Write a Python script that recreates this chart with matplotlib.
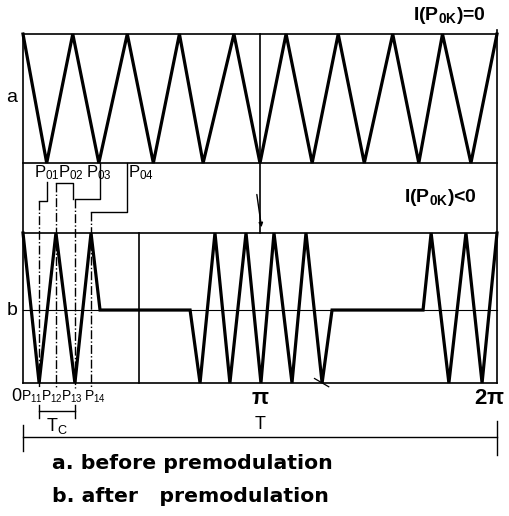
#!/usr/bin/env python3
# -*- coding: utf-8 -*-

"""
Triangular carrier before (a) and after (b) premodulation
"""

import matplotlib.pyplot as plt
import matplotlib as mpl

mpl.rcParams['font.family'] = ['Liberation Sans', 'DejaVu Sans']
mpl.rcParams['mathtext.default'] = 'regular'

# Data : phase in units of pi, level 1 = top, 0 = bottom, 0.5 = middle
a_phase = [0, 0.10, 0.21, 0.32, 0.44, 0.55, 0.66, 0.76, 0.89, 1.0,
           1.11, 1.22, 1.33, 1.44, 1.56, 1.67, 1.77, 1.89, 2.0]
a_level = [1, 0, 1, 0, 1, 0, 1, 0, 1, 0, 1, 0, 1, 0, 1, 0, 1, 0, 1]

b_phase = [0, 0.068, 0.139, 0.219, 0.287, 0.325, 0.705, 0.747, 0.810,
           0.873, 0.941, 1.004, 1.059, 1.135, 1.194, 1.262, 1.304, 1.688,
           1.722, 1.797, 1.869, 1.937, 2.0]
b_level = [1, 0, 1, 0, 1, 0.5, 0.5, 0, 1, 0, 1, 0, 1, 0, 1, 0, 0.5, 0.5,
           1, 0, 1, 0, 1]

# points P0k (before) -> P1k (after)
p0_phase = [0.101, 0.211, 0.325, 0.439]
p1_phase = [0.068, 0.139, 0.219, 0.287]
p0_names = ['P$_{01}$', 'P$_{02}$', 'P$_{03}$', 'P$_{04}$']
p1_names = ['P$_{11}$', 'P$_{12}$', 'P$_{13}$', 'P$_{14}$']
b_step = 0.489

# vertical layout (arbitrary units)
B_BOT, B_TOP, B_MID = 0.0, 2.0, 0.973
A_BOT, A_TOP = 2.933, 4.653

if __name__ == "__main__":

    fig = plt.figure(figsize=(5.1, 5.16), dpi=100)
    ax = fig.add_axes([0, 0, 1, 1])
    ax.set_xlim(-23/237, 487/237)
    ax.set_ylim(-133/75, 383/75)
    ax.axis('off')

    lw_sig, lw_frame = 2.3, 1.2
    k = 'black'

    # frames
    for y in [A_TOP, A_BOT, B_TOP, B_BOT]:
        ax.plot([0, 2], [y, y], color=k, lw=lw_frame)
    ax.plot([0, 2], [B_MID, B_MID], color=k, lw=0.8)
    ax.plot([0, 0], [B_BOT, A_TOP], color=k, lw=lw_frame)
    ax.plot([2, 2], [B_BOT, A_TOP + 0.06], color=k, lw=lw_frame)

    # signals
    ya = [A_BOT + l*(A_TOP - A_BOT) for l in a_level]
    ax.plot(a_phase, ya, color=k, lw=lw_sig, solid_joinstyle='miter')
    yb = [B_MID if l == 0.5 else B_BOT + l*(B_TOP - B_BOT) for l in b_level]
    ax.plot(b_phase, yb, color=k, lw=lw_sig, solid_joinstyle='miter')
    ax.plot([b_step, b_step], [B_BOT, B_TOP], color=k, lw=lw_frame)
    ax.plot([1.0, 1.0], [B_TOP, A_TOP], color=k, lw=lw_frame)

    # brackets P0k -> P1k
    starts = [2.68, 2.45, A_BOT, A_BOT]
    depths = [2.43, 2.67, 2.45, 2.28]
    for x0, x1, s, d in zip(p0_phase, p1_phase, starts, depths):
        ax.plot([x0, x0, x1], [s, d, d], color=k, lw=1.0)
        ax.plot([x1, x1], [d, -0.067], color=k, lw=1.0, ls='-.')
    for x, name in zip([0.101, 0.203, 0.321, 0.498], p0_names):
        ax.text(x, 2.81, name, ha='center', va='center', fontsize=12)

    # arrow near pi
    ax.annotate('', xy=(1.008, 2.04), xytext=(0.985, 2.55),
                arrowprops=dict(arrowstyle='-|>', color=k, lw=1.0, mutation_scale=6))
    ax.plot([1.23, 1.29], [0.06, -0.05], color=k, lw=0.9)

    # texts
    ax.text(1.80, 4.90, r'I(P$_{0K}$)=0', ha='center', va='center', fontsize=14,
            fontweight='bold')
    ax.text(1.76, 2.48, r'I(P$_{0K}$)<0', ha='center', va='center', fontsize=14,
            fontweight='bold')
    ax.text(-0.046, 3.81, 'a', ha='center', va='center', fontsize=14)
    ax.text(-0.046, 0.97, 'b', ha='center', va='center', fontsize=14)

    ax.text(-0.03, -0.18, '0', ha='center', va='center', fontsize=13)
    for x, name in zip([0.036, 0.122, 0.205, 0.302], p1_names):
        ax.text(x, -0.18, name, ha='center', va='center', fontsize=10)
    ax.text(1.0, -0.2, r'$\pi$', ha='center', va='center', fontsize=16,
            fontweight='bold')
    ax.text(1.97, -0.2, r'2$\pi$', ha='center', va='center', fontsize=16,
            fontweight='bold')

    # Tc and T
    ax.plot([p1_phase[0], p1_phase[2]], [-0.373, -0.373], color=k, lw=1.0)
    for x in [p1_phase[0], p1_phase[2]]:
        ax.plot([x, x], [-0.29, -0.46], color=k, lw=1.0)
    ax.text(0.143, -0.57, 'T$_C$', ha='center', va='center', fontsize=13)
    ax.plot([0, 2], [-0.72, -0.72], color=k, lw=1.0)
    ax.plot([0, 0], [-0.56, -0.9], color=k, lw=1.0)
    ax.plot([2, 2], [-0.5, -0.96], color=k, lw=1.0)
    ax.text(1.0, -0.55, 'T', ha='center', va='center', fontsize=13)

    # captions
    ax.text(0.122, -1.067, 'a. before premodulation', ha='left', va='center',
            fontsize=14.7, fontweight='bold', family='DejaVu Sans')
    ax.text(0.122, -1.52, 'b. after   premodulation', ha='left', va='center',
            fontsize=14.7, fontweight='bold', family='DejaVu Sans')

    plt.savefig('out.png', dpi=100)
